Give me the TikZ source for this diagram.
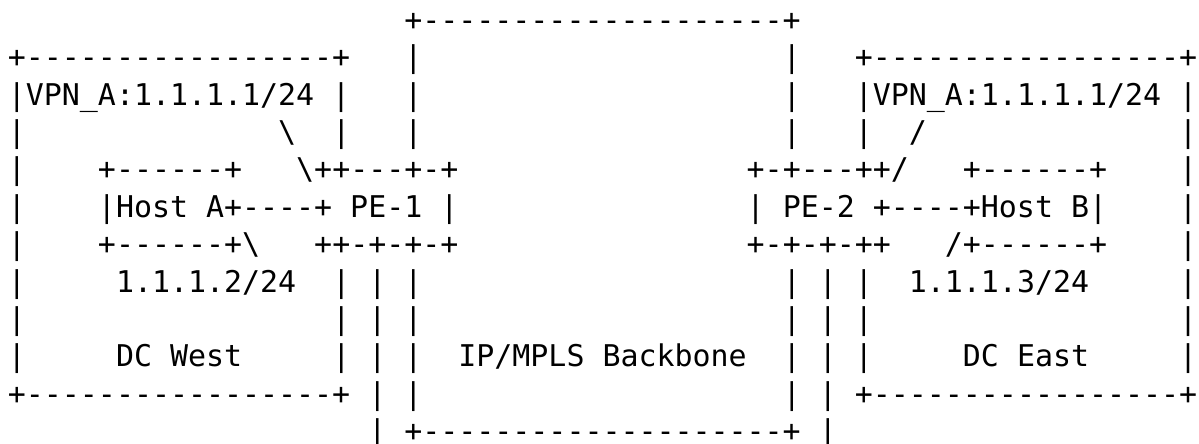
\documentclass[tikz,border=0pt]{standalone}
\usepackage{fontspec}
\setmonofont{DejaVu Sans Mono}

\begin{document}
\begin{tikzpicture}[x=18.02pt, y=-37.4pt,
  asc/.style={anchor=base west, inner sep=0pt,
    font=\ttfamily\fontsize{29.93}{37.4}\selectfont},
  lastrow/.style={asc, text depth=0pt}]
  \useasboundingbox (-0.427,0.19) rectangle (66.11,12.035);
  \fill[white] (-0.427,0.19) rectangle (66.11,12.035);
  % 1 col = one character cell, 1 row = one text line
  % IP/MPLS backbone, top edge
  \node[asc] (bbtop) at (22,1) {+--------------------+};
  % tops of the two data centres
  \node[asc] (westtop) at (0,2) {+-----------------+};
  \node[asc] (easttop) at (47,2) {+-----------------+};
  % backbone sides above the PEs
  \foreach \r in {2,3,4} {
    \node[asc] (bbl\r) at (22,\r) {|};
    \node[asc] (bbr\r) at (43,\r) {|};
  }
  % VRF labels
  \node[asc] (westvrf) at (0,3) {|VPN\_A:1.1.1.1/24 |};
  \node[asc] (eastvrf) at (47,3) {|VPN\_A:1.1.1.1/24 |};
  \node[asc] (westin) at (18,4) {|};
  \node[asc] (eastin) at (47,4) {|};
  \node[asc] (westvlink) at (15,4) {\textbackslash};
  \node[asc] (eastvlink) at (50,4) {/};
  % outer sides of the DC boxes
  \foreach \r in {4,...,10} {
    \node[asc] (westside\r) at (0,\r) {|};
    \node[asc] (eastside\r) at (65,\r) {|};
  }
  % hosts and PEs
  \node[asc] (hostatop) at (5,5) {+------+};
  \node[asc] (pe1top) at (16,5) {\textbackslash++---+-+};
  \node[asc] (pe2top) at (41,5) {+-+---++/};
  \node[asc] (hostbtop) at (53,5) {+------+};
  \node[asc] (pe1) at (5,6) {|Host A+----+ PE-1 |};
  \node[asc] (pe2) at (41,6) {| PE-2 +----+Host B|};
  \node[asc] (hostabot) at (5,7) {+------+\textbackslash};
  \node[asc] (pe1bot) at (17,7) {++-+-+-+};
  \node[asc] (pe2bot) at (41,7) {+-+-+-++};
  \node[asc] (hostbbot) at (52,7) {/+------+};
  % host addresses
  \node[asc] (hostaip) at (6,8) {1.1.1.2/24};
  \node[asc] (hostbip) at (50,8) {1.1.1.3/24};
  % links down from the PEs
  \foreach \r in {8,9,10} {
    \node[asc] (westpipe\r) at (18,\r) {| | |};
    \node[asc] (eastpipe\r) at (43,\r) {| | |};
  }
  \node[asc] (westdc) at (6,10) {DC West};
  \node[asc] (bbname) at (25,10) {IP/MPLS Backbone};
  \node[asc] (eastdc) at (53,10) {DC East};
  % bottom edges
  \node[asc] (westbot) at (0,11) {+-----------------+};
  \node[asc] (westpipe11) at (20,11) {| |};
  \node[asc] (eastpipe11) at (43,11) {| |};
  \node[asc] (eastbot) at (47,11) {+-----------------+};
  \node[lastrow] (westpipe12) at (20,12) {|};
  \node[lastrow] (bbbot) at (22,12) {+--------------------+};
  \node[lastrow] (eastpipe12) at (45,12) {|};
\end{tikzpicture}
\end{document}
